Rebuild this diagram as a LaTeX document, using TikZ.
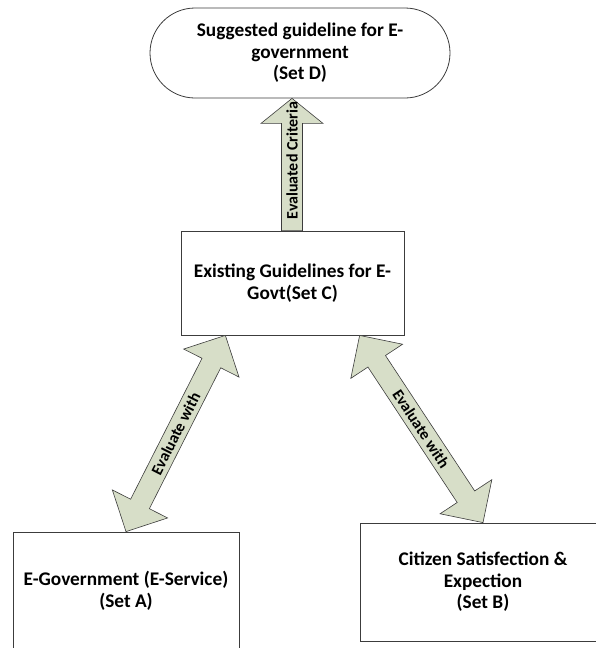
\documentclass[tikz,border=0pt]{standalone}
\usepackage{fontspec}
\setmainfont{Carlito}
\usepackage{tikz}
\usetikzlibrary{positioning,calc}
\definecolor{carrow}{RGB}{215,222,200}
\definecolor{cline}{RGB}{60,60,60}
\newcommand{\blockdarrow}[4]{%
  \coordinate (#4s) at ($(#1)!31pt!(#2)$);
  \coordinate (#4e) at ($(#2)!31pt!(#1)$);
  \draw[arrowbody] (#1) -- ($(#4s)!31pt!90:(#2)$) -- ($(#4s)!10.5pt!90:(#2)$)
    -- ($(#4e)!10.5pt!-90:(#1)$) -- ($(#4e)!31pt!-90:(#1)$) -- (#2)
    -- ($(#4e)!31pt!90:(#1)$) -- ($(#4e)!10.5pt!90:(#1)$)
    -- ($(#4s)!10.5pt!-90:(#2)$) -- ($(#4s)!31pt!-90:(#2)$) -- cycle;
  \path (#1) -- (#2) node[arrowlabel, midway, sloped] (#4) {#3};}
\newcommand{\blockarrow}[4]{%
  \coordinate (#4e) at ($(#2)!25pt!(#1)$);
  \draw[arrowbody] ($(#1)!10.5pt!90:(#2)$) -- ($(#4e)!10.5pt!-90:(#1)$)
    -- ($(#4e)!31pt!-90:(#1)$) -- (#2) -- ($(#4e)!31pt!90:(#1)$)
    -- ($(#4e)!10.5pt!90:(#1)$) -- ($(#1)!10.5pt!-90:(#2)$) -- cycle;
  \path (#1) -- (#2) node[arrowlabel, pos=0.53, sloped] (#4) {#3};}

\begin{document}
\begin{tikzpicture}[x=1pt, y=-1pt,
    setbox/.style={draw=cline, line width=0.8pt, fill=white, align=center, inner sep=0pt,
      font=\bfseries\fontsize{19.3}{21.5}\selectfont},
    arrowbody/.style={draw=cline, line width=0.6pt, fill=carrow, line join=miter},
    arrowlabel/.style={inner sep=0pt, font=\bfseries\fontsize{16}{18}\selectfont}]
    \useasboundingbox (0,0) rectangle (595,648);
    \node[setbox, rounded corners=45pt, minimum width=300pt, minimum height=90pt] (setD) at (300,53)
      {Suggested guideline for E-\\government\\(Set D)};
    \node[setbox, minimum width=223pt, minimum height=104pt] (setC) at (292.5,283)
      {Existing Guidelines for E-\\Govt(Set C)};
    \node[setbox, minimum width=226pt, minimum height=118pt] (setA) at (126,591)
      {E-Government (E-Service)\\(Set A)};
    \node[setbox, minimum width=246pt, minimum height=118pt] (setB) at (483,582)
      {Citizen Satisfection \&\\Expection\\(Set B)};

    \coordinate (cTop) at ($(setC.north)+(-0.5,0)$);
    \coordinate (dBot) at (cTop |- setD.south);
    \coordinate (cLeft) at ($(setC.south west)!0.2!(setC.south east)$);
    \coordinate (cRight) at ($(setC.south west)!0.8!(setC.south east)$);

    \blockarrow{cTop}{dBot}{Evaluated Criteria}{lblCD}
    \blockdarrow{cLeft}{setA.north}{Evaluate with}{lblCA}
    \blockdarrow{cRight}{setB.north}{Evaluate with}{lblCB}
\end{tikzpicture}
\end{document}
